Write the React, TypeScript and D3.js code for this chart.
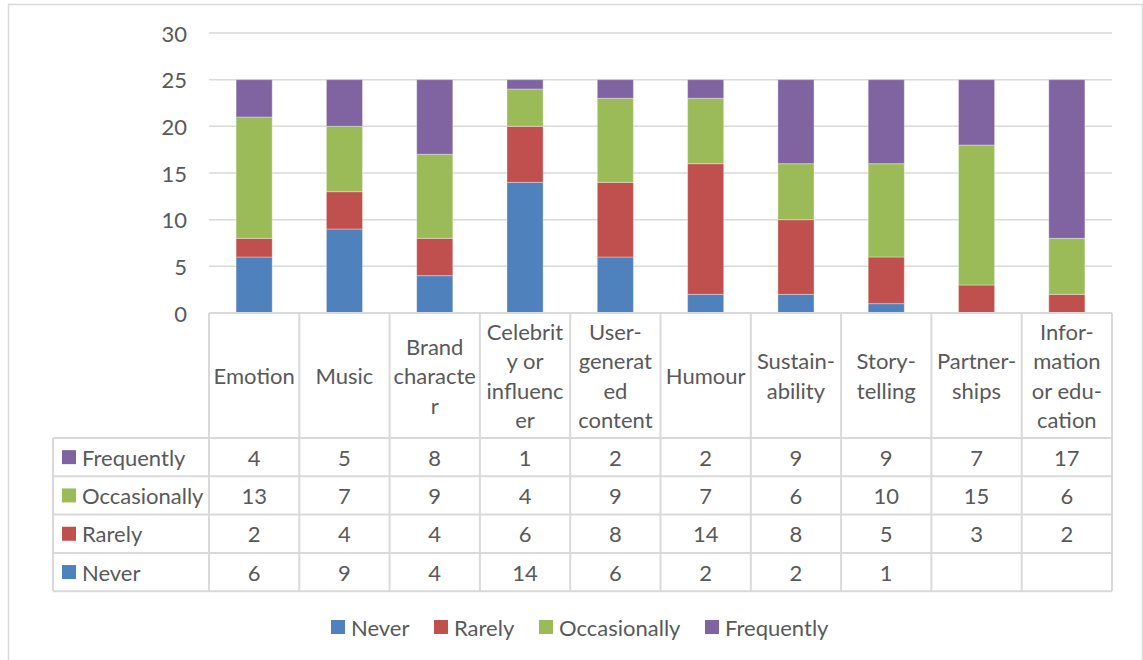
import React from "react";
import * as d3 from "d3";

const categories = [
  "Emotion",
  "Music",
  "Brand character",
  "Celebrity or influencer",
  "User-generated content",
  "Humour",
  "Sustainability",
  "Storytelling",
  "Partnerships",
  "Information or education",
];

// Wrapped header text as it appears in the data table
const categoryLines = [
  ["Emotion"],
  ["Music"],
  ["Brand", "characte", "r"],
  ["Celebrit", "y or", "influenc", "er"],
  ["User-", "generat", "ed", "content"],
  ["Humour"],
  ["Sustain-", "ability"],
  ["Story-", "telling"],
  ["Partner-", "ships"],
  ["Infor-", "mation", "or edu-", "cation"],
];

const seriesNames = ["Never", "Rarely", "Occasionally", "Frequently"];
const never = [6, 9, 4, 14, 6, 2, 2, 1, 0, 0];
const rarely = [2, 4, 4, 6, 8, 14, 8, 5, 3, 2];
const occasionally = [13, 7, 9, 4, 9, 7, 6, 10, 15, 6];
const frequently = [4, 5, 8, 1, 2, 2, 9, 9, 7, 17];
const yTicks = [0, 5, 10, 15, 20, 25, 30];

const colors: Record<string, string> = {
  Never: "#4F81BD",
  Rarely: "#C0504D",
  Occasionally: "#9BBB59",
  Frequently: "#8064A2",
};

const FONT = "Lato, 'Open Sans', sans-serif";
const TEXT = "#595959";
const LINE = "#d9d9d9";

export default function App() {
  const W = 1143;
  const H = 660;
  const left = 209;
  const right = 1112;
  const top = 33;
  const base = 313;

  const valuesBySeries: Record<string, number[]> = {
    Never: never,
    Rarely: rarely,
    Occasionally: occasionally,
    Frequently: frequently,
  };
  const rows = categories.map((c, i) => {
    const r: Record<string, any> = { category: c };
    seriesNames.forEach((s) => (r[s] = valuesBySeries[s][i]));
    return r;
  });
  const stacked = d3.stack<any>().keys(seriesNames)(rows);

  const x = d3.scaleBand<string>().domain(categories).range([left, right]).paddingInner(0).paddingOuter(0);
  const y = d3.scaleLinear().domain([0, 30]).range([base, top]);
  const barW = x.bandwidth() * 0.4;

  const headerBottom = 438;
  const rowH = 38.3;
  const tableLeft = 53;
  // table rows, top to bottom
  const tableOrder = ["Frequently", "Occasionally", "Rarely", "Never"];
  const rowY = tableOrder.map((_, i) => headerBottom + i * rowH);
  const tableBottom = headerBottom + tableOrder.length * rowH;

  const fontSize = 22;
  const lineH = 29.5;

  const legendItems = [
    { name: "Never", x: 331 },
    { name: "Rarely", x: 434 },
    { name: "Occasionally", x: 539 },
    { name: "Frequently", x: 705 },
  ];

  return (
    <svg
      width={W}
      height={H}
      style={{ position: "absolute", left: 0, top: 0, background: "#fff" }}
      fontFamily={FONT}
    >
      <rect x={8.5} y={4.5} width={1134} height={700} fill="#fff" stroke={LINE} strokeWidth={1.5} />

      {/* gridlines and value axis labels */}
      {yTicks.map((t) => (
        <g key={t}>
          {t > 0 && (
            <line x1={left} x2={right} y1={y(t)} y2={y(t)} stroke={LINE} strokeWidth={1.5} />
          )}
          <text
            x={187}
            y={y(t)}
            textAnchor="end"
            dominantBaseline="central"
            fontSize={fontSize}
            fill={TEXT}
          >
            {t}
          </text>
        </g>
      ))}

      {/* stacked bars */}
      {stacked.map((layer) => (
        <g key={layer.key} fill={colors[layer.key]}>
          {layer.map((d, i) =>
            d[1] - d[0] > 0 ? (
              <rect
                key={i}
                x={(x(categories[i]) as number) + (x.bandwidth() - barW) / 2}
                y={y(d[1])}
                width={barW}
                height={y(d[0]) - y(d[1])}
                stroke="#ffffff"
                strokeOpacity={0.35}
                strokeWidth={1}
              />
            ) : null
          )}
        </g>
      ))}

      {/* data table grid */}
      <g stroke={LINE} strokeWidth={2} fill="none">
        <line x1={left} x2={right} y1={base} y2={base} />
        {[headerBottom, ...rowY.slice(1), tableBottom].map((yy, i) => (
          <line key={i} x1={tableLeft} x2={right} y1={yy} y2={yy} />
        ))}
        <line x1={tableLeft} x2={tableLeft} y1={headerBottom} y2={tableBottom} />
        {categories.map((c) => (
          <line key={c} x1={x(c)} x2={x(c)} y1={base} y2={tableBottom} />
        ))}
        <line x1={right} x2={right} y1={base} y2={tableBottom} />
      </g>

      {/* column headers */}
      {categories.map((c, i) => {
        const lines = categoryLines[i];
        const cx = (x(c) as number) + x.bandwidth() / 2;
        const cy = (base + headerBottom) / 2;
        const y0 = cy - ((lines.length - 1) * lineH) / 2;
        return (
          <text key={c} textAnchor="middle" fontSize={fontSize} fill={TEXT}>
            {lines.map((l, k) => (
              <tspan key={k} x={cx} y={y0 + k * lineH} dominantBaseline="central">
                {l}
              </tspan>
            ))}
          </text>
        );
      })}

      {/* table rows */}
      {tableOrder.map((s, r) => {
        const cy = rowY[r] + rowH / 2;
        return (
          <g key={s}>
            <rect x={62} y={cy - 7} width={14} height={14} fill={colors[s]} />
            <text x={82} y={cy} dominantBaseline="central" fontSize={fontSize} fill={TEXT}>
              {s}
            </text>
            {categories.map((c, i) => {
              const v = valuesBySeries[s][i];
              return v > 0 ? (
                <text
                  key={c}
                  x={(x(c) as number) + x.bandwidth() / 2}
                  y={cy}
                  textAnchor="middle"
                  dominantBaseline="central"
                  fontSize={fontSize}
                  fill={TEXT}
                >
                  {v}
                </text>
              ) : null;
            })}
          </g>
        );
      })}

      {/* legend */}
      {legendItems.map((it) => (
        <g key={it.name}>
          <rect x={it.x} y={620} width={14} height={14} fill={colors[it.name]} />
          <text x={it.x + 20} y={627} dominantBaseline="central" fontSize={fontSize} fill={TEXT}>
            {it.name}
          </text>
        </g>
      ))}
    </svg>
  );
}
